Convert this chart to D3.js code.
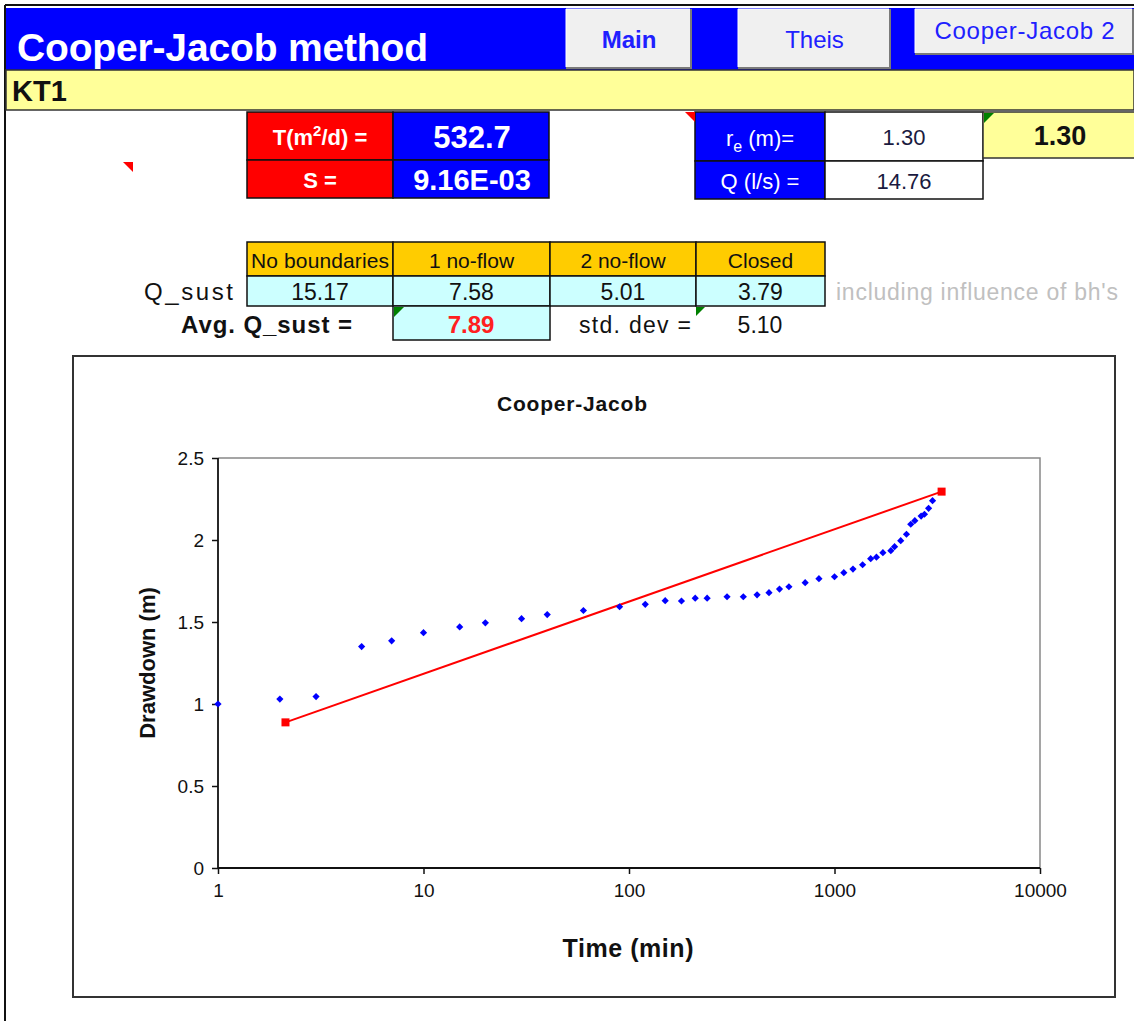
<!DOCTYPE html>
<html>
<head>
<meta charset="utf-8">
<script src="https://cdn.jsdelivr.net/npm/d3@7"></script>
<style>
  body { margin: 0; background: #fff; }
  svg { display: block; font-family: "Liberation Sans", Arial, sans-serif; }
</style>
</head>
<body>
<svg id="canvas"></svg>
<script>
// pumping test data: time since start (min) and drawdown (m)
const timeMin = [1, 2, 3, 5, 7, 10, 15, 20, 30, 40, 60, 90, 120, 150, 180, 210, 240, 300, 360, 420,
  480, 540, 600, 720, 840, 1000, 1110, 1230, 1370, 1500, 1600, 1720, 1880, 1960, 2100, 2240,
  2350, 2460, 2640, 2740, 2870, 3000];
const drawdown = [1.00, 1.03, 1.045, 1.35, 1.385, 1.435, 1.47, 1.495, 1.52, 1.545, 1.57, 1.593, 1.608,
  1.63, 1.628, 1.645, 1.645, 1.654, 1.654, 1.666, 1.679, 1.701, 1.715, 1.74, 1.764, 1.776,
  1.801, 1.823, 1.849, 1.886, 1.895, 1.923, 1.935, 1.959, 1.996, 2.035, 2.096, 2.118, 2.146,
  2.157, 2.193, 2.24];

// Cooper-Jacob straight line fit (two end points)
const fitTime = [2.13, 3320];
const fitDrawdown = [0.888, 2.295];

const xTicks = [1, 10, 100, 1000, 10000];
const yTicks = [0, 0.5, 1, 1.5, 2, 2.5];
const yTickLabels = ["0", "0.5", "1", "1.5", "2", "2.5"];

// spreadsheet values
const boundaryNames = ["No boundaries", "1 no-flow", "2 no-flow", "Closed"];
const qSust = ["15.17", "7.58", "5.01", "3.79"];
const avgQSust = "7.89";
const stdDev = "5.10";

const width = 1134, height = 1021;
const svg = d3.select("#canvas").attr("width", width).attr("height", height);

// page border
svg.append("line").attr("x1", 5).attr("y1", 5).attr("x2", width).attr("y2", 5)
  .attr("stroke", "#111").attr("stroke-width", 2);
svg.append("line").attr("x1", 5).attr("y1", 5).attr("x2", 5).attr("y2", height)
  .attr("stroke", "#111").attr("stroke-width", 2);

// blue header band
svg.append("rect").attr("x", 6).attr("y", 8).attr("width", width - 6).attr("height", 62).attr("fill", "#0000ff");
svg.append("text").attr("x", 17).attr("y", 61).attr("fill", "#fff")
  .attr("font-size", 39).attr("font-weight", "bold").attr("textLength", 411)
  .text("Cooper-Jacob method");

// buttons
function button(x, y, w, h, label, bold, ty, tl) {
  svg.append("rect").attr("x", x).attr("y", y).attr("width", w).attr("height", h).attr("fill", "#f0f0f0");
  svg.append("path").attr("d", `M${x},${y + h - 1}H${x + w - 1}V${y}`)
    .attr("fill", "none").attr("stroke", "#7a7a7a").attr("stroke-width", 2);
  svg.append("path").attr("d", `M${x},${y + h - 2}V${y}H${x + w - 2}`)
    .attr("fill", "none").attr("stroke", "#fff").attr("stroke-width", 1);
  const t = svg.append("text").attr("x", x + w / 2).attr("y", ty).attr("text-anchor", "middle")
    .attr("fill", "#2020ff").attr("font-size", 24).attr("font-weight", bold ? "bold" : "normal")
    .text(label);
  if (tl) t.attr("textLength", tl);
}
button(566, 9, 126, 60, "Main", true, 48);
button(738, 9, 153, 60, "Theis", false, 48);
button(915, 9, 219, 46, "Cooper-Jacob 2", false, 39, 180);

// yellow well-name band
svg.append("rect").attr("x", 6).attr("y", 70).attr("width", width - 6).attr("height", 40)
  .attr("fill", "#ffff99").attr("stroke", "#333").attr("stroke-width", 1.5);
svg.append("text").attr("x", 12).attr("y", 101).attr("font-size", 29).attr("font-weight", "bold")
  .attr("fill", "#111").text("KT1");

function cell(x, y, w, h, fill) {
  svg.append("rect").attr("x", x).attr("y", y).attr("width", w).attr("height", h)
    .attr("fill", fill).attr("stroke", "#111").attr("stroke-width", 1.5);
}
function label(x, y, txt, opts) {
  const o = Object.assign({ size: 22, weight: "normal", fill: "#111", anchor: "middle" }, opts);
  const t = svg.append("text").attr("x", x).attr("y", y).attr("text-anchor", o.anchor)
    .attr("font-size", o.size).attr("font-weight", o.weight).attr("fill", o.fill).text(txt);
  if (o.len) t.attr("textLength", o.len);
  return t;
}
function tri(points, fill) {
  svg.append("polygon").attr("points", points.map(p => p.join(",")).join(" ")).attr("fill", fill);
}

// T and S block
cell(247, 112, 146, 48, "#ff0000");
cell(393, 112, 156, 48, "#0000ff");
cell(247, 160, 146, 38, "#ff0000");
cell(393, 160, 156, 38, "#0000ff");
const tLab = label(320, 145, "T(m", { weight: "bold", fill: "#fff" });
tLab.append("tspan").attr("dy", -9).attr("font-size", 15).text("2");
tLab.append("tspan").attr("dy", 9).text("/d) =");
label(320, 188, "S =", { weight: "bold", fill: "#fff" });
label(472, 148, "532.7", { size: 31, weight: "bold", fill: "#fff" });
label(472, 190, "9.16E-03", { size: 29, weight: "bold", fill: "#fff" });
tri([[123, 162], [133, 162], [133, 172]], "#ff0000");

// r_e and Q block
cell(695, 112, 130, 49, "#0000ff");
cell(825, 112, 158, 49, "#ffffff");
cell(695, 161, 130, 38, "#0000ff");
cell(825, 161, 158, 38, "#ffffff");
svg.append("rect").attr("x", 983).attr("y", 112).attr("width", 160).attr("height", 46)
  .attr("fill", "#ffff99").attr("stroke", "#333").attr("stroke-width", 1.5);
const rLab = label(760, 146, "r", { fill: "#fff" });
rLab.append("tspan").attr("dy", 6).attr("font-size", 16).text("e");
rLab.append("tspan").attr("dy", -6).text(" (m)=");
label(760, 189, "Q (l/s) =", { fill: "#fff" });
label(904, 145, "1.30", { fill: "#1a1a40" });
label(904, 189, "14.76", { fill: "#1a1a40" });
label(1060, 145, "1.30", { size: 27, weight: "bold" });
tri([[685, 112], [695, 112], [695, 122]], "#ff0000");
tri([[984, 113], [994, 113], [984, 123]], "#008000");

// Q_sust table
const colX = [247, 393, 550, 696, 825];
boundaryNames.forEach((name, i) => {
  cell(colX[i], 242, colX[i + 1] - colX[i], 34, "#ffcc00");
  label((colX[i] + colX[i + 1]) / 2, 268, name, { size: 21, len: i === 0 ? 138 : null });
  cell(colX[i], 276, colX[i + 1] - colX[i], 30, "#ccffff");
  label((colX[i] + colX[i + 1]) / 2, 300, qSust[i], { size: 23 });
});
label(233, 300, "Q_sust", { anchor: "end", size: 24, len: 89 });
label(836, 300, "including influence of bh's", { anchor: "start", fill: "#c0c0c0", size: 23, len: 282 });
cell(393, 306, 157, 34, "#ccffff");
label(352, 333, "Avg. Q_sust =", { anchor: "end", weight: "bold", size: 24, len: 171 });
label(471, 333, avgQSust, { weight: "bold", fill: "#ff2020", size: 24 });
label(691, 333, "std. dev =", { anchor: "end", size: 23, len: 112 });
label(760, 333, stdDev, { size: 23 });
tri([[394, 307], [404, 307], [394, 317]], "#008000");
tri([[696, 307], [705, 307], [696, 316]], "#008000");

// ---- chart ----
svg.append("rect").attr("x", 73).attr("y", 356).attr("width", 1042).attr("height", 641)
  .attr("fill", "#fff").attr("stroke", "#333").attr("stroke-width", 2);
label(572, 411, "Cooper-Jacob", { size: 21, weight: "bold", len: 150 });

const plotL = 218, plotR = 1040, plotT = 458, plotB = 868;
const x = d3.scaleLog().domain([1, 10000]).range([plotL, plotR]);
const y = d3.scaleLinear().domain([0, 2.5]).range([plotB, plotT]);

// plot area frame (top/right grey)
svg.append("path").attr("d", `M${plotL},${plotT}H${plotR}V${plotB}`)
  .attr("fill", "none").attr("stroke", "#888").attr("stroke-width", 1.5);

const yAxis = svg.append("g").attr("transform", `translate(${plotL},0)`)
  .call(d3.axisLeft(y).tickValues(yTicks).tickSize(6).tickPadding(8)
    .tickFormat((d, i) => yTickLabels[i]));
const xAxis = svg.append("g").attr("transform", `translate(0,${plotB})`)
  .call(d3.axisBottom(x).tickValues(xTicks).tickSize(6).tickPadding(10)
    .tickFormat(d3.format("d")));
[yAxis, xAxis].forEach(g => {
  g.select(".domain").attr("stroke", "#111").attr("stroke-width", 1.8);
  g.selectAll(".tick line").attr("stroke", "#111").attr("stroke-width", 1.5);
  g.selectAll(".tick text").attr("font-size", 19).attr("fill", "#111")
    .attr("font-family", "Liberation Sans, Arial, sans-serif");
});
// no outer tick caps on the axis domain
yAxis.select(".domain").attr("d", `M0,${plotB}V${plotT}`);
xAxis.select(".domain").attr("d", `M${plotL},0H${plotR}`);

// axis titles
label(0, 0, "Drawdown (m)", { size: 22, weight: "bold" })
  .attr("transform", `translate(155,663) rotate(-90)`);
label(628, 957, "Time (min)", { size: 25, weight: "bold", len: 131 });

// fitted line
const fit = fitTime.map((t, i) => [t, fitDrawdown[i]]);
svg.append("path").datum(fit)
  .attr("d", d3.line().x(d => x(d[0])).y(d => y(d[1])))
  .attr("fill", "none").attr("stroke", "#ff0000").attr("stroke-width", 2);
svg.append("g").selectAll("rect").data(fit).join("rect")
  .attr("x", d => x(d[0]) - 4).attr("y", d => y(d[1]) - 4)
  .attr("width", 8).attr("height", 8).attr("fill", "#ff0000");

// observed drawdown points
const obs = timeMin.map((t, i) => [t, drawdown[i]]);
svg.append("g").selectAll("path").data(obs).join("path")
  .attr("d", d3.symbol(d3.symbolSquare, 26))
  .attr("transform", d => `translate(${x(d[0])},${y(d[1])}) rotate(45)`)
  .attr("fill", "#0000ff");
</script>
</body>
</html>
